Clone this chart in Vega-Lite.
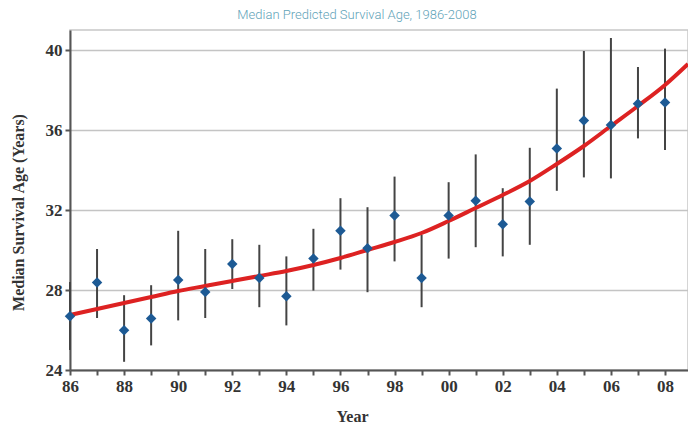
{
  "$schema": "https://vega.github.io/schema/vega-lite/v6.json",
  "autosize": "none",
  "width": 618,
  "height": 340,
  "padding": {"left": 70, "top": 30, "right": 0, "bottom": 56},
  "background": "white",
  "title": {
    "text": "Median Predicted Survival Age, 1986-2008",
    "font": "Roboto",
    "fontWeight": 300,
    "fontSize": 13,
    "color": "#5fa3b8",
    "anchor": "middle",
    "dx": -22,
    "offset": 8
  },
  "config": {
    "view": {"stroke": "#c8c8c8", "strokeWidth": 1.5},
    "axis": {
      "labelFont": "Liberation Serif",
      "titleFont": "Liberation Serif",
      "labelColor": "#333",
      "titleColor": "#333"
    }
  },
  "datasets": {
    "obs": [
      {"year": 1986, "age": 26.69, "lo": 25.0, "hi": 28.4},
      {"year": 1987, "age": 28.38, "lo": 26.6, "hi": 30.05},
      {"year": 1988, "age": 25.99, "lo": 24.41, "hi": 27.74},
      {"year": 1989, "age": 26.58, "lo": 25.23, "hi": 28.24},
      {"year": 1990, "age": 28.5, "lo": 26.48, "hi": 30.96},
      {"year": 1991, "age": 27.9, "lo": 26.6, "hi": 30.05},
      {"year": 1992, "age": 29.3, "lo": 28.05, "hi": 30.54},
      {"year": 1993, "age": 28.6, "lo": 27.14, "hi": 30.26},
      {"year": 1994, "age": 27.69, "lo": 26.23, "hi": 29.68},
      {"year": 1995, "age": 29.57, "lo": 27.97, "hi": 31.06},
      {"year": 1996, "age": 30.96, "lo": 29.02, "hi": 32.59},
      {"year": 1997, "age": 30.09, "lo": 27.89, "hi": 32.14},
      {"year": 1998, "age": 31.72, "lo": 29.43, "hi": 33.67},
      {"year": 1999, "age": 28.6, "lo": 27.14, "hi": 30.76},
      {"year": 2000, "age": 31.72, "lo": 29.57, "hi": 33.39},
      {"year": 2001, "age": 32.46, "lo": 30.14, "hi": 34.78},
      {"year": 2002, "age": 31.29, "lo": 29.68, "hi": 33.09},
      {"year": 2003, "age": 32.42, "lo": 30.26, "hi": 35.11},
      {"year": 2004, "age": 35.08, "lo": 32.96, "hi": 38.07},
      {"year": 2005, "age": 36.48, "lo": 33.63, "hi": 39.95},
      {"year": 2006, "age": 36.25, "lo": 33.58, "hi": 40.6},
      {"year": 2007, "age": 37.31, "lo": 35.58, "hi": 39.15},
      {"year": 2008, "age": 37.37, "lo": 35.0, "hi": 40.07}
    ],
    "fit": [
      {"year": 1986, "fit": 26.75},
      {"year": 1987, "fit": 27.05},
      {"year": 1988, "fit": 27.35},
      {"year": 1989, "fit": 27.65},
      {"year": 1990, "fit": 27.95},
      {"year": 1991, "fit": 28.2},
      {"year": 1992, "fit": 28.45},
      {"year": 1993, "fit": 28.7},
      {"year": 1994, "fit": 28.95},
      {"year": 1995, "fit": 29.25},
      {"year": 1996, "fit": 29.6},
      {"year": 1997, "fit": 30.0},
      {"year": 1998, "fit": 30.4},
      {"year": 1999, "fit": 30.85},
      {"year": 2000, "fit": 31.45},
      {"year": 2001, "fit": 32.1},
      {"year": 2002, "fit": 32.75},
      {"year": 2003, "fit": 33.45},
      {"year": 2004, "fit": 34.3},
      {"year": 2005, "fit": 35.2},
      {"year": 2006, "fit": 36.2},
      {"year": 2007, "fit": 37.2},
      {"year": 2008, "fit": 38.25},
      {"year": 2008.85, "fit": 39.3}
    ]
  },
  "encoding": {
    "x": {
      "field": "year",
      "type": "quantitative",
      "scale": {"domain": [1986, 2008.85], "nice": false, "zero": false},
      "axis": {
        "title": "Year",
        "titleFontSize": 16,
        "titleFontWeight": "bold",
        "titleAnchor": "start",
        "titleAlign": "center",
        "titleX": 282,
        "titleY": 51,
        "titleBaseline": "alphabetic",
        "values": [1986,1987,1988,1989,1990,1991,1992,1993,1994,1995,1996,1997,1998,1999,2000,2001,2002,2003,2004,2005,2006,2007,2008],
        "labelExpr": "datum.value % 2 == 0 ? slice(toString(datum.value), 2) : ''",
        "labelFontSize": 17,
        "labelFontWeight": "bold",
        "labelFlush": false,
        "labelOverlap": false,
        "labelPadding": 3,
        "grid": false,
        "domainColor": "#555",
        "domainWidth": 2,
        "tickColor": "#555",
        "tickWidth": 2,
        "tickSize": 5
      }
    }
  },
  "layer": [
    {
      "data": {"name": "obs"},
      "mark": {"type": "rule", "color": "#444", "strokeWidth": 2},
      "encoding": {
        "y": {
          "field": "lo",
          "type": "quantitative",
          "scale": {"domain": [24, 41], "nice": false, "zero": false},
          "axis": {
            "title": "Median Survival Age (Years)",
            "titleFontSize": 16,
            "titleFontWeight": "bold",
            "titleX": -52,
            "titleY": 182,
            "titleAngle": -90,
            "titleAlign": "center",
            "titleBaseline": "middle",
            "titleAnchor": "start",
            "values": [24, 28, 32, 36, 40],
            "labelFontSize": 17,
            "labelFontWeight": "bold",
            "labelPadding": 3,
            "labelFlush": false,
            "grid": true,
            "gridColor": "#c4c4c4",
            "gridWidth": 1.5,
            "domainColor": "#555",
            "domainWidth": 2,
            "tickColor": "#555",
            "tickWidth": 2,
            "tickSize": 5
          }
        },
        "y2": {"field": "hi"}
      }
    },
    {
      "data": {"name": "fit"},
      "mark": {"type": "line", "color": "#dd2222", "strokeWidth": 4, "interpolate": "monotone"},
      "encoding": {
        "y": {"field": "fit", "type": "quantitative"}
      }
    },
    {
      "data": {"name": "obs"},
      "mark": {"type": "point", "shape": "diamond", "filled": true, "color": "#1d5a94", "size": 110, "opacity": 1},
      "encoding": {
        "y": {"field": "age", "type": "quantitative"}
      }
    }
  ]
}
